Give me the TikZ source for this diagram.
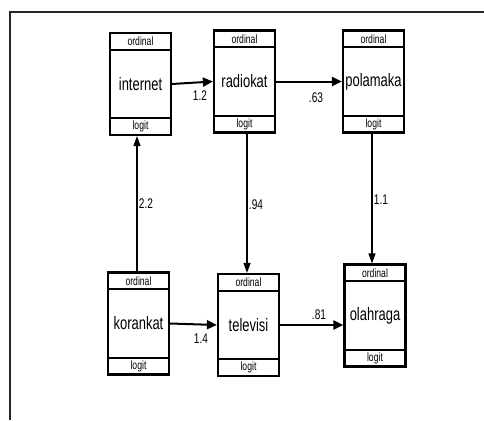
\documentclass[tikz,border=0pt]{standalone}
\usepackage{fontspec}
\setmainfont{Liberation Sans}
\newfontfamily\narrowfont[FakeStretch=0.72]{Liberation Sans}
\usetikzlibrary{arrows.meta}
\begin{document}
\begin{tikzpicture}[x=1pt,y=-1pt,
  varbox/.style={draw, line width=2.2pt, minimum width=61pt, minimum height=102pt, inner sep=0pt,
    font=\narrowfont\fontsize{18}{18}\selectfont},
  tag/.style={font=\narrowfont\fontsize{12}{12}\selectfont, inner sep=0pt},
  coef/.style={font=\narrowfont\fontsize{14}{14}\selectfont, inner sep=0pt},
  thick arrow/.style={line width=2pt, -{Triangle[length=10pt,width=9pt]}},
  thin arrow/.style={line width=1.2pt, -{Triangle[length=10pt,width=7pt]}}]
\useasboundingbox (0,0) rectangle (484,420);
\draw[line width=1.2pt, black!85] (10,420) -- (10,12) -- (484,12);
% boxes
\foreach \n/\x/\y in {internet/140.5/84, radiokat/244.5/81.5, polamaka/373.5/81.5,
                      korankat/138.5/323.5, televisi/248.5/325, olahraga/375/315.5}{
  \node[varbox] (\n) at (\x,\y) {\n};
  \draw[line width=2pt] ([yshift=-18pt]\n.north west) -- ([yshift=-18pt]\n.north east);
  \draw[line width=2pt] ([yshift=18pt]\n.south west) -- ([yshift=18pt]\n.south east);
  \node[tag] (\n-o) at ([yshift=-9.5pt]\n.north) {ordinal};
  \node[tag] (\n-l) at ([yshift=9.5pt]\n.south) {logit};
}
% connectors
\draw[thick arrow] (internet.east) -- (radiokat.west);
\draw[thick arrow] (radiokat.east) -- (polamaka.west);
\draw[thick arrow] (korankat.east) -- (televisi.west);
\draw[thick arrow] (televisi.east) -- (televisi.east -| olahraga.west);
\draw[thin arrow] ([xshift=-1.5pt]polamaka.south) -- ([xshift=-1.5pt]polamaka.south |- olahraga.north);
\draw[thin arrow] ([xshift=2.5pt]radiokat.south) -- ([xshift=2.5pt]radiokat.south |- televisi.north);
\draw[thin arrow] ([xshift=-1.5pt]korankat.north) -- ([xshift=-1.5pt]korankat.north |- internet.south);
% coefficients
\node[coef] (c1) at (200,96) {1.2};
\node[coef] (c2) at (316,98) {.63};
\node[coef] (c3) at (381,200) {1.1};
\node[coef] (c4) at (256,205) {.94};
\node[coef] (c5) at (146,204) {2.2};
\node[coef] (c6) at (201,339) {1.4};
\node[coef] (c7) at (319,315) {.81};
\end{tikzpicture}
\end{document}
